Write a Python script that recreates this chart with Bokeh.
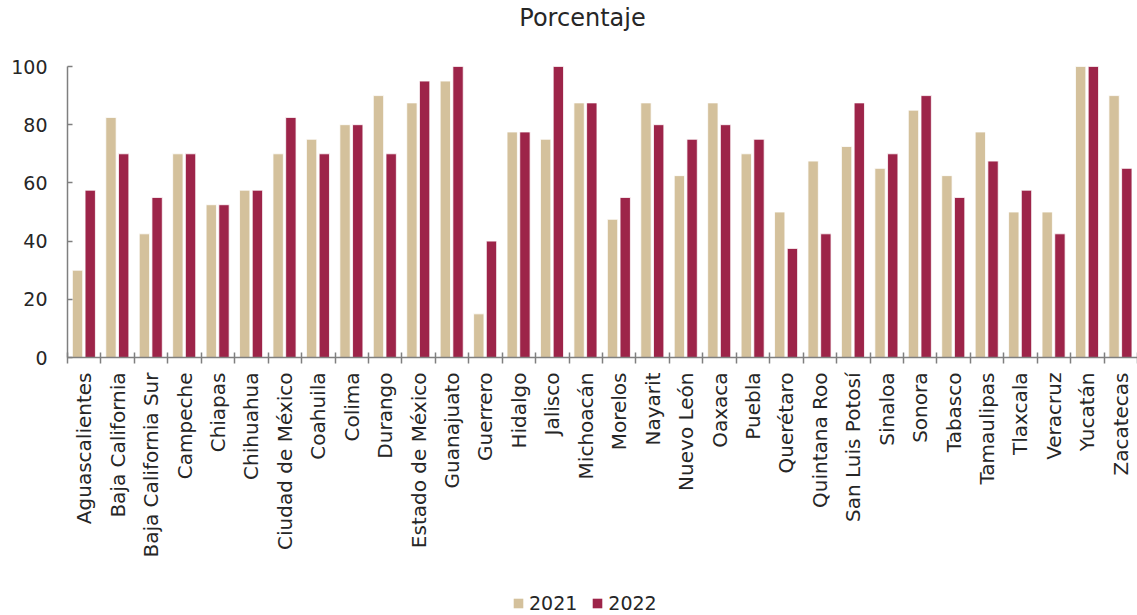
from bokeh.plotting import figure
from bokeh.layouts import column
from bokeh.models import Range1d, FixedTicker, Legend, LegendItem, ColumnDataSource, Label
from bokeh.transform import dodge
from bokeh.embed import file_html
from bokeh.resources import INLINE
import math

states = ["Aguascalientes", "Baja California", "Baja California Sur", "Campeche", "Chiapas",
          "Chihuahua", "Ciudad de México", "Coahuila", "Colima", "Durango", "Estado de México",
          "Guanajuato", "Guerrero", "Hidalgo", "Jalisco", "Michoacán", "Morelos", "Nayarit",
          "Nuevo León", "Oaxaca", "Puebla", "Querétaro", "Quintana Roo", "San Luis Potosí",
          "Sinaloa", "Sonora", "Tabasco", "Tamaulipas", "Tlaxcala", "Veracruz", "Yucatán",
          "Zacatecas"]
v2021 = [30, 82.5, 42.5, 70, 52.5, 57.5, 70, 75, 80, 90, 87.5, 95, 15, 77.5, 75, 87.5, 47.5,
         87.5, 62.5, 87.5, 70, 50, 67.5, 72.5, 65, 85, 62.5, 77.5, 50, 50, 100, 90]
v2022 = [57.5, 70, 55, 70, 52.5, 57.5, 82.5, 70, 80, 70, 95, 100, 40, 77.5, 100, 87.5, 55,
         80, 75, 80, 75, 37.5, 42.5, 87.5, 70, 90, 55, 67.5, 57.5, 42.5, 100, 65]
y_ticks = [0, 20, 40, 60, 80, 100]
series = ["2021", "2022"]
title_text = "Porcentaje"

FONT = "DejaVu Sans"
TXT = "#262626"
AX = "#7f7f7f"
C21 = "#D4C19C"
C22 = "#9D2449"
W = 1137
LEFT = 67

xs = list(range(len(states)))
src = ColumnDataSource(dict(x=xs, y1=v2021, y2=v2022))


def bare(h):
    f = figure(width=W, height=h, x_range=Range1d(LEFT, W), y_range=Range1d(0, h),
               x_axis_location=None, y_axis_location=None, output_backend="svg",
               toolbar_location=None, min_border=0, min_border_left=LEFT)
    f.outline_line_color = None
    f.xgrid.grid_line_color = None
    f.ygrid.grid_line_color = None
    return f


# ---- title strip
top = bare(40)
top.add_layout(Label(x=582, y=23, text=title_text, text_align="center", text_baseline="middle",
                     text_font=FONT, text_font_size="24px", text_color=TXT))

# ---- main chart
p = figure(width=W, height=540, x_range=Range1d(-0.5, len(states) - 0.5),
           y_range=Range1d(0, 100), output_backend="svg", toolbar_location=None,
           min_border_left=LEFT, min_border_right=0, min_border_top=26, min_border_bottom=223)
p.outline_line_color = None
p.xgrid.grid_line_color = None
p.ygrid.grid_line_color = None

p.vbar(x=dodge("x", -0.2, range=p.x_range), top="y1", width=0.31, source=src,
       fill_color=C21, line_color="white", line_width=0.8)
p.vbar(x=dodge("x", 0.18, range=p.x_range), top="y2", width=0.31, source=src,
       fill_color=C22, line_color="white", line_width=0.8)

xa = p.xaxis[0]
xa.ticker = FixedTicker(ticks=xs, minor_ticks=[i - 0.5 for i in range(len(states) + 1)])
xa.major_label_overrides = {i: s for i, s in enumerate(states)}
xa.major_label_orientation = math.pi / 2
xa.major_tick_line_color = None
xa.major_tick_out = 0
xa.major_tick_in = 0
xa.major_label_standoff = 9
xa.minor_tick_in = 5
xa.minor_tick_out = 6
xa.minor_tick_line_color = AX
xa.minor_tick_line_width = 1.5
xa.axis_line_color = AX
xa.axis_line_width = 1.5
xa.major_label_text_font = FONT
xa.major_label_text_font_size = "20px"
xa.major_label_text_color = TXT

ya = p.yaxis[0]
ya.ticker = FixedTicker(ticks=y_ticks)
ya.minor_tick_line_color = None
ya.major_tick_in = 5
ya.major_tick_out = 0
ya.major_tick_line_color = AX
ya.major_tick_line_width = 1.5
ya.axis_line_color = AX
ya.axis_line_width = 1.5
ya.major_label_standoff = 20
ya.major_label_text_font = FONT
ya.major_label_text_font_size = "19px"
ya.major_label_text_color = TXT

# ---- legend strip (renderers hidden, only used for legend swatches)
leg = bare(35)
l1 = leg.vbar(x="x", top="y1", width=1, source=src, fill_color=C21, line_color=None, visible=False)
l2 = leg.vbar(x="x", top="y2", width=1, source=src, fill_color=C22, line_color=None, visible=False)
legend = Legend(items=[LegendItem(label=series[0], renderers=[l1]),
                       LegendItem(label=series[1], renderers=[l2])],
                orientation="horizontal", location=(512 - LEFT, 1))
legend.glyph_width = 12
legend.glyph_height = 12
legend.label_text_font = FONT
legend.label_text_font_size = "19px"
legend.label_text_color = TXT
legend.label_standoff = 5
legend.spacing = 14
legend.border_line_color = None
legend.background_fill_alpha = 0
legend.inactive_fill_alpha = 0
legend.padding = 0
legend.margin = 0
leg.add_layout(legend)

layout = column(top, p, leg, spacing=0)
open("out.html", "w").write(file_html(layout, INLINE))
